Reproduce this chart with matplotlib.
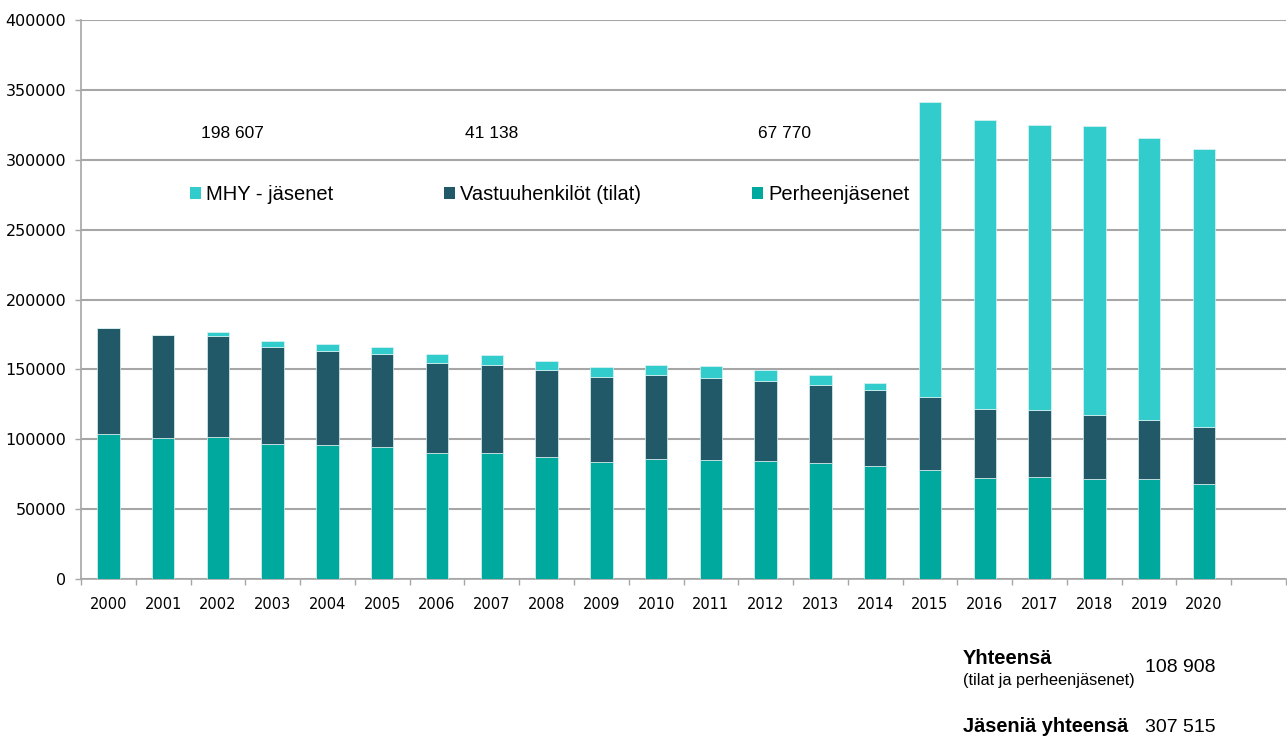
"""Membership of forest management associations (MHY), 2000-2020, as stacked bars."""

import matplotlib.pyplot as plt
import numpy as np
from matplotlib.patches import Patch
from matplotlib.ticker import FixedLocator, MultipleLocator

years = [str(y) for y in range(2000, 2021)]

# bottom segment: family members
perheenjasenet = [
    103500, 100900, 101800, 96600, 95600, 94500, 89900, 89900, 87300, 83500,
    85900, 85400, 84200, 82800, 80900, 78000, 72000, 73000, 71600, 71600, 67770,
]
# middle segment: persons responsible (farms)
vastuuhenkilot = [
    76100, 73700, 71900, 69600, 67300, 66300, 64900, 63500, 62000, 61300,
    60100, 58700, 57500, 56000, 54600, 52200, 49900, 47700, 46000, 42200, 41138,
]
# top segment: MHY members
mhy_jasenet = [
    0, 0, 3000, 4300, 5300, 5400, 6400, 6900, 6700, 6900,
    7100, 8300, 8100, 6900, 4800, 211300, 206500, 204400, 206600, 202000, 198607,
]

series_labels = ["MHY - jäsenet", "Vastuuhenkilöt (tilat)", "Perheenjäsenet"]
series_colors = ["#33CCCC", "#215968", "#00A99D"]

GRID_COLOR = "#A6A6A6"


def plot_membership(output_path: str) -> None:
    fig = plt.figure(figsize=(12.87, 7.38), dpi=100)
    ax = fig.add_axes([81 / 1287, 1 - 579 / 738, 1205 / 1287, 559 / 738])

    x = np.arange(len(years))
    perh = np.array(perheenjasenet)
    vast = np.array(vastuuhenkilot)
    mhy = np.array(mhy_jasenet)

    bar_kw = dict(width=0.41, edgecolor="#DDF3F3", linewidth=0.5, zorder=3)
    ax.bar(x, perh, color=series_colors[2], **bar_kw)
    ax.bar(x, vast, bottom=perh, color=series_colors[1], **bar_kw)
    ax.bar(x, mhy, bottom=perh + vast, color=series_colors[0], **bar_kw)

    # one empty category slot after 2020, as in the original
    ax.set_xlim(-0.5, len(years) + 0.5)
    ax.set_ylim(0, 400000)

    ax.yaxis.set_major_locator(MultipleLocator(50000))
    ax.grid(axis="y", color=GRID_COLOR, linewidth=1.5, zorder=0)
    ax.set_axisbelow(True)

    ax.set_xticks(x)
    ax.set_xticklabels(years, fontsize=10.5, family="DejaVu Sans")
    ax.xaxis.set_minor_locator(FixedLocator(np.arange(-0.5, len(years) + 1, 1.0)))
    ax.tick_params(axis="x", which="major", length=0, pad=13)
    ax.tick_params(axis="x", which="minor", length=4.5, width=1, color=GRID_COLOR)
    ax.tick_params(axis="y", length=4.5, width=1, color=GRID_COLOR, labelsize=11.5, pad=6)
    ax.yaxis.set_major_formatter(plt.FuncFormatter(lambda v, _: f"{int(v)}"))

    for side in ["top", "right"]:
        ax.spines[side].set_visible(False)
    for side in ["left", "bottom"]:
        ax.spines[side].set_color(GRID_COLOR)
        ax.spines[side].set_linewidth(1.2)

    # legend row with the 2020 values written above each entry
    handles = [Patch(facecolor=c, edgecolor="none") for c in series_colors]
    fig.legend(
        handles,
        series_labels,
        loc="center left",
        bbox_to_anchor=(190 / 1287, 1 - 195 / 738),
        ncol=3,
        frameon=False,
        borderpad=0,
        borderaxespad=0,
        handlelength=0.55,
        handleheight=0.55,
        handletextpad=0.25,
        columnspacing=5.5,
        prop={"family": "Liberation Sans", "size": 14.5},
    )

    latest = [mhy[-1], vast[-1], perh[-1]]
    label_x = [201, 465, 758]
    for xpos, value in zip(label_x, latest):
        fig.text(
            xpos / 1287, 1 - 133 / 738, f"{value:,}".replace(",", " "),
            ha="left", va="center", fontsize=12.5, family="Liberation Sans",
        )

    total_farms = perh[-1] + vast[-1]
    total_all = total_farms + mhy[-1]
    fig.text(963 / 1287, 1 - 659 / 738, "Yhteensä", ha="left", va="center",
             fontsize=14.5, fontweight="bold", family="Liberation Sans")
    fig.text(963 / 1287, 1 - 680 / 738, "(tilat ja perheenjäsenet)", ha="left",
             va="center", fontsize=11.8, family="Liberation Sans")
    fig.text(1145 / 1287, 1 - 667 / 738, f"{total_farms:,}".replace(",", " "),
             ha="left", va="center", fontsize=14, family="Liberation Sans")
    fig.text(963 / 1287, 1 - 727 / 738, "Jäseniä yhteensä", ha="left", va="center",
             fontsize=14.4, fontweight="bold", family="Liberation Sans")
    fig.text(1145 / 1287, 1 - 727 / 738, f"{total_all:,}".replace(",", " "),
             ha="left", va="center", fontsize=14, family="Liberation Sans")

    fig.savefig(output_path, dpi=100)
    plt.close(fig)


if __name__ == "__main__":
    plot_membership("out.png")
